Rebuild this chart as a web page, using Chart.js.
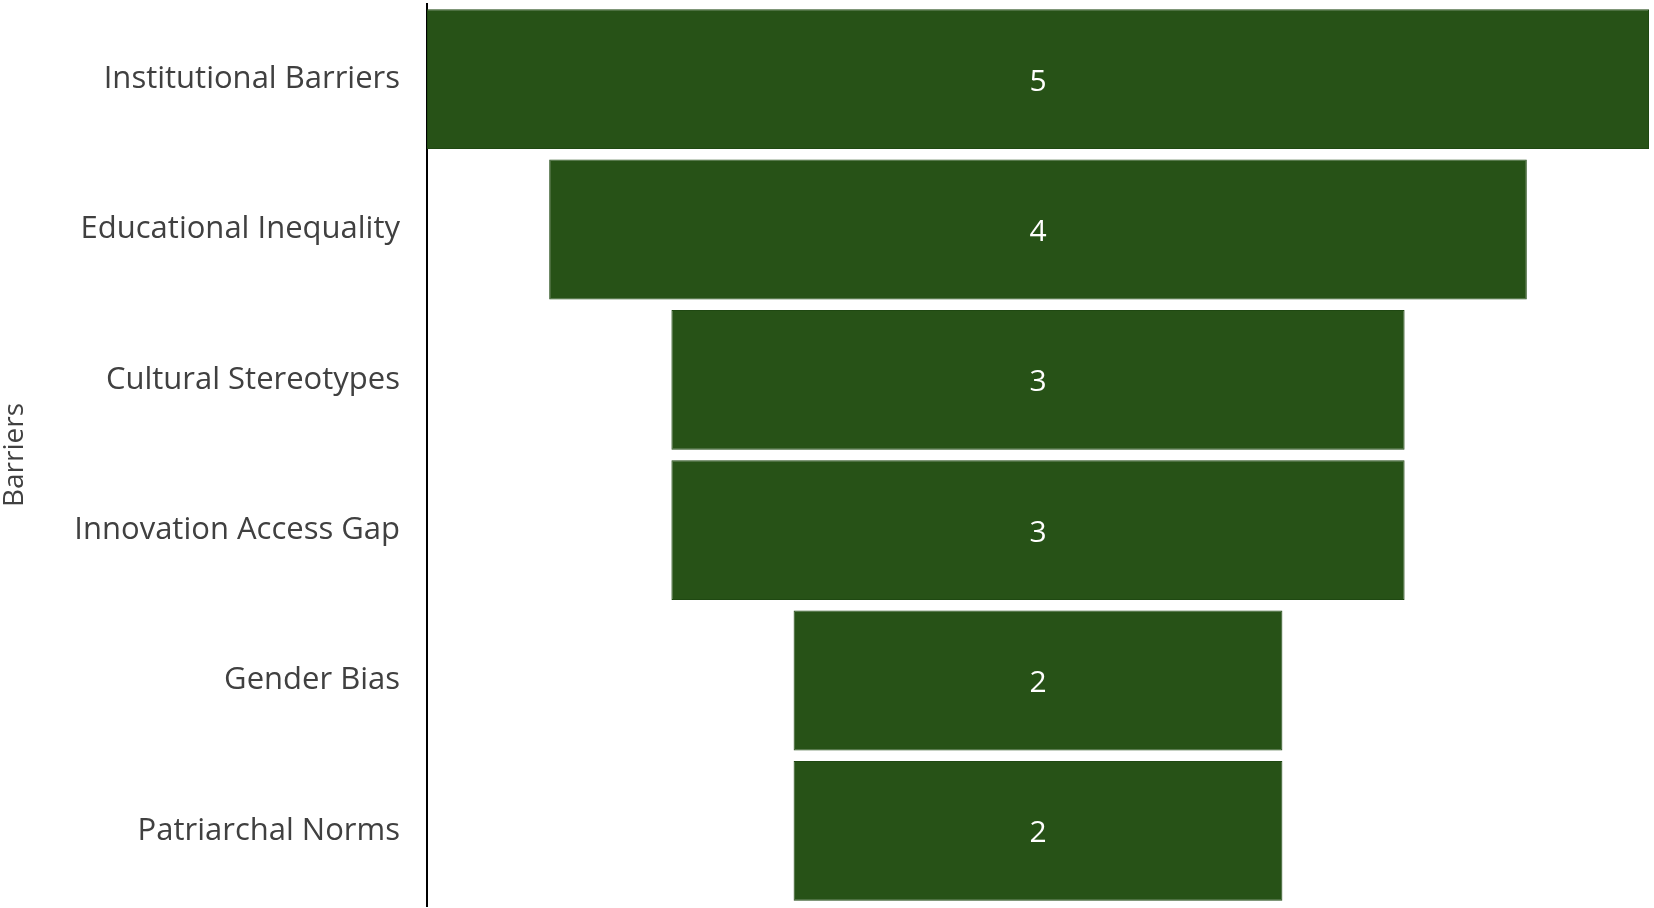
<!DOCTYPE html>
<html>
<head>
<meta charset="utf-8">
<script src="https://cdn.jsdelivr.net/npm/chart.js@4"></script>
<style>
  html, body { margin: 0; padding: 0; background: #fff; }
  #wrap { width: 1654px; height: 908px; }
</style>
</head>
<body>
<div id="wrap"><canvas id="funnel"></canvas></div>
<script>
const barreras = ["Institutional Barriers", "Educational Inequality", "Cultural Stereotypes", "Innovation Access Gap", "Gender Bias", "Patriarchal Norms"];
const valores = [5, 4, 3, 3, 2, 2];
const tituloEje = "Barriers";

//barras flotantes centradas en cero para formar el embudo
const tramos = valores.map((v) => [-v / 2, v / 2]);

//plugin para escribir el valor en el centro de cada barra
const etiquetasValor = {
  id: "etiquetasValor",
  afterDatasetsDraw(chart) {
    const ctx = chart.ctx;
    const meta = chart.getDatasetMeta(0);
    ctx.save();
    ctx.fillStyle = "#ffffff";
    ctx.font = "30px 'Open Sans', sans-serif";
    ctx.textAlign = "center";
    ctx.textBaseline = "middle";
    meta.data.forEach((bar, i) => {
      const c = bar.getCenterPoint();
      ctx.fillText(String(valores[i]), c.x, c.y + 3);
    });
    ctx.restore();
  },
};

const ctx = document.getElementById("funnel").getContext("2d");

const funnel = new Chart(ctx, {
  type: "bar",
  data: {
    labels: barreras,
    datasets: [
      {
        data: tramos,
        backgroundColor: "#275217",
        borderColor: "#1f4812",
        borderWidth: 1,
        borderSkipped: false,
        categoryPercentage: 1,
        barPercentage: 0.93,
      },
    ],
  },
  options: {
    indexAxis: "y",
    responsive: true,
    maintainAspectRatio: false,
    animation: false,
    layout: { padding: { top: 4, right: 5, bottom: 2, left: 0 } },
    plugins: {
      legend: { display: false },
      tooltip: { enabled: false },
    },
    scales: {
      x: { display: false, min: -2.5, max: 2.5 },
      y: {
        grid: { display: false, drawTicks: false },
        border: { display: true, color: "#000000", width: 2 },
        ticks: {
          color: "#404040",
          padding: 27,
          font: { family: "'Open Sans', sans-serif", size: 31 },
        },
        title: {
          display: true,
          text: tituloEje,
          color: "#404040",
          padding: { top: 0, bottom: 0 },
          font: { family: "'Open Sans', sans-serif", size: 28, lineHeight: 1.1 },
        },
        afterFit(scale) {
          // ancho fijo del eje y sin relleno extra arriba/abajo
          scale.width = 427;
          scale.paddingTop = 0;
          scale.paddingBottom = 0;
        },
      },
    },
  },
  plugins: [etiquetasValor],
});
</script>
</body>
</html>
